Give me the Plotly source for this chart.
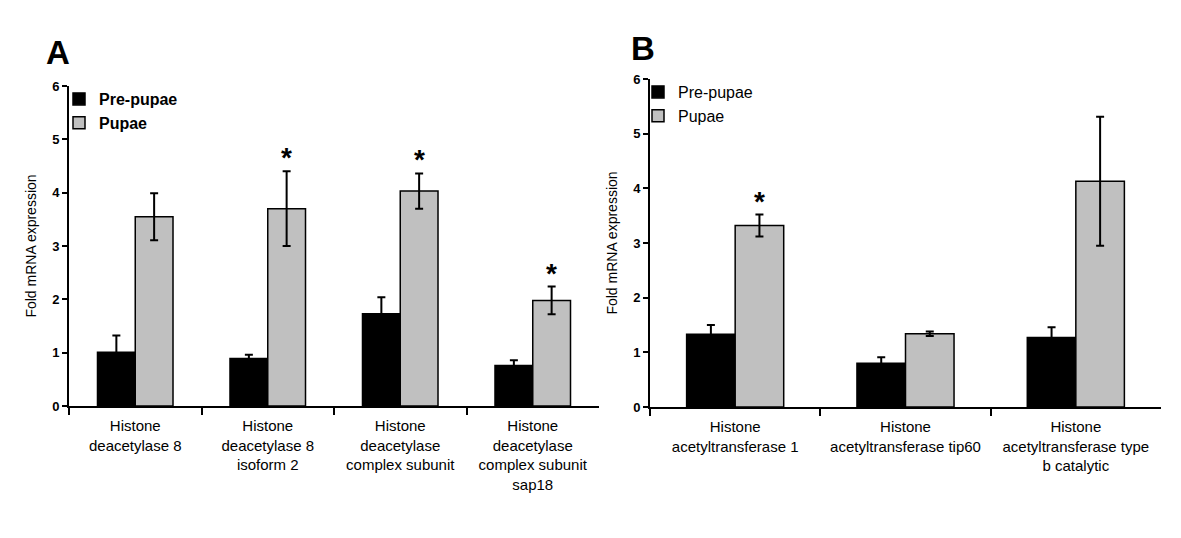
import plotly.graph_objects as go

# Panel A data
cats_a = ["Histone<br>deacetylase 8", "Histone<br>deacetylase 8<br>isoform 2",
          "Histone<br>deacetylase<br>complex subunit", "Histone<br>deacetylase<br>complex subunit<br>sap18"]
pre_a = [1.01, 0.89, 1.73, 0.76]
pre_a_err = [0.31, 0.07, 0.31, 0.10]
pup_a = [3.55, 3.70, 4.03, 1.98]
pup_a_err = [0.44, 0.70, 0.33, 0.26]
sig_a = [False, True, True, True]

# Panel B data
cats_b = ["Histone<br>acetyltransferase 1", "Histone<br>acetyltransferase tip60",
          "Histone<br>acetyltransferase type<br>b catalytic"]
pre_b = [1.33, 0.80, 1.27]
pre_b_err = [0.17, 0.11, 0.19]
pup_b = [3.32, 1.34, 4.13]
pup_b_err = [0.20, 0.04, 1.18]
sig_b = [True, False, False]

yticks = [0, 1, 2, 3, 4, 5, 6]

W, H = 1181, 538
OFF = 8  # page body margin
FONT = "Liberation Sans, Arial, sans-serif"


def px(x):
    return (x - OFF) / W


def py(y):
    return 1 - (y - OFF) / H


def err(arr):
    return dict(type="data", array=arr, visible=True, color="black", thickness=2, width=4)


fig = go.Figure()
fig.add_trace(go.Bar(x=cats_a, y=pre_a, name="Pre-pupae", marker=dict(color="black", line=dict(color="black", width=1.5)),
                     error_y=err(pre_a_err), xaxis="x", yaxis="y", legend="legend"))
fig.add_trace(go.Bar(x=cats_a, y=pup_a, name="Pupae", marker=dict(color="#c0c0c0", line=dict(color="black", width=1.5)),
                     error_y=err(pup_a_err), xaxis="x", yaxis="y", legend="legend"))
fig.add_trace(go.Bar(x=cats_b, y=pre_b, name="Pre-pupae", marker=dict(color="black", line=dict(color="black", width=1.5)),
                     error_y=err(pre_b_err), xaxis="x2", yaxis="y2", legend="legend2"))
fig.add_trace(go.Bar(x=cats_b, y=pup_b, name="Pupae", marker=dict(color="#c0c0c0", line=dict(color="black", width=1.5)),
                     error_y=err(pup_b_err), xaxis="x2", yaxis="y2", legend="legend2"))

annotations = []
for c, v, e, s in zip(cats_a, pup_a, pup_a_err, sig_a):
    if s:
        annotations.append(dict(x=c, y=v + e, xref="x", yref="y", text="<b>*</b>", showarrow=False,
                                xshift=19, yanchor="bottom", yshift=-4,
                                font=dict(family=FONT, size=28, color="black")))
for c, v, e, s in zip(cats_b, pup_b, pup_b_err, sig_b):
    if s:
        annotations.append(dict(x=c, y=v + e, xref="x2", yref="y2", text="<b>*</b>", showarrow=False,
                                xshift=24, yanchor="bottom", yshift=-4,
                                font=dict(family=FONT, size=28, color="black")))
annotations.append(dict(x=px(58), y=py(52), xref="paper", yref="paper", text="<b>A</b>", showarrow=False,
                        xanchor="center", yanchor="middle", font=dict(family=FONT, size=33, color="black")))
annotations.append(dict(x=px(643), y=py(48), xref="paper", yref="paper", text="<b>B</b>", showarrow=False,
                        xanchor="center", yanchor="middle", font=dict(family=FONT, size=33, color="black")))

xcommon = dict(type="category", showline=True, linecolor="black", linewidth=2, ticks="outside",
               tickson="boundaries", ticklen=7, tickwidth=2, tickcolor="black", showgrid=False,
               automargin=False, ticklabelstandoff=5,
               tickfont=dict(family=FONT, size=15, color="black"))
ycommon = dict(range=[0, 6], tickvals=yticks, showline=True, linecolor="black", linewidth=2,
               ticks="outside", ticklen=5, tickwidth=2, tickcolor="black", showgrid=False, zeroline=False,
               automargin=False,
               tickfont=dict(family=FONT, size=13, color="black", weight="bold"),
               title=dict(text="Fold mRNA expression", font=dict(family=FONT, size=14, color="black"), standoff=12))

fig.update_layout(
    width=W, height=H,
    margin=dict(l=0, r=0, t=0, b=0, autoexpand=False),
    paper_bgcolor="white", plot_bgcolor="white",
    barmode="group", bargap=0.43, bargroupgap=0,
    font=dict(family=FONT, color="black"),
    xaxis=dict(domain=[px(69), px(599)], anchor="y", **xcommon),
    yaxis=dict(domain=[py(406), py(86)], anchor="x", **ycommon),
    xaxis2=dict(domain=[px(650), px(1161)], anchor="y2", **xcommon),
    yaxis2=dict(domain=[py(407), py(79)], anchor="x2", **ycommon),
    legend=dict(x=px(59), y=py(82), xanchor="left", yanchor="top", bgcolor="rgba(0,0,0,0)",
                font=dict(family=FONT, size=16, color="black", weight="bold"), itemwidth=30, tracegroupgap=2),
    legend2=dict(x=px(638), y=py(75), xanchor="left", yanchor="top", bgcolor="rgba(0,0,0,0)",
                 font=dict(family=FONT, size=16, color="black"), itemwidth=30, tracegroupgap=2),
    annotations=annotations,
    showlegend=True,
)

fig.write_html("out.html")
